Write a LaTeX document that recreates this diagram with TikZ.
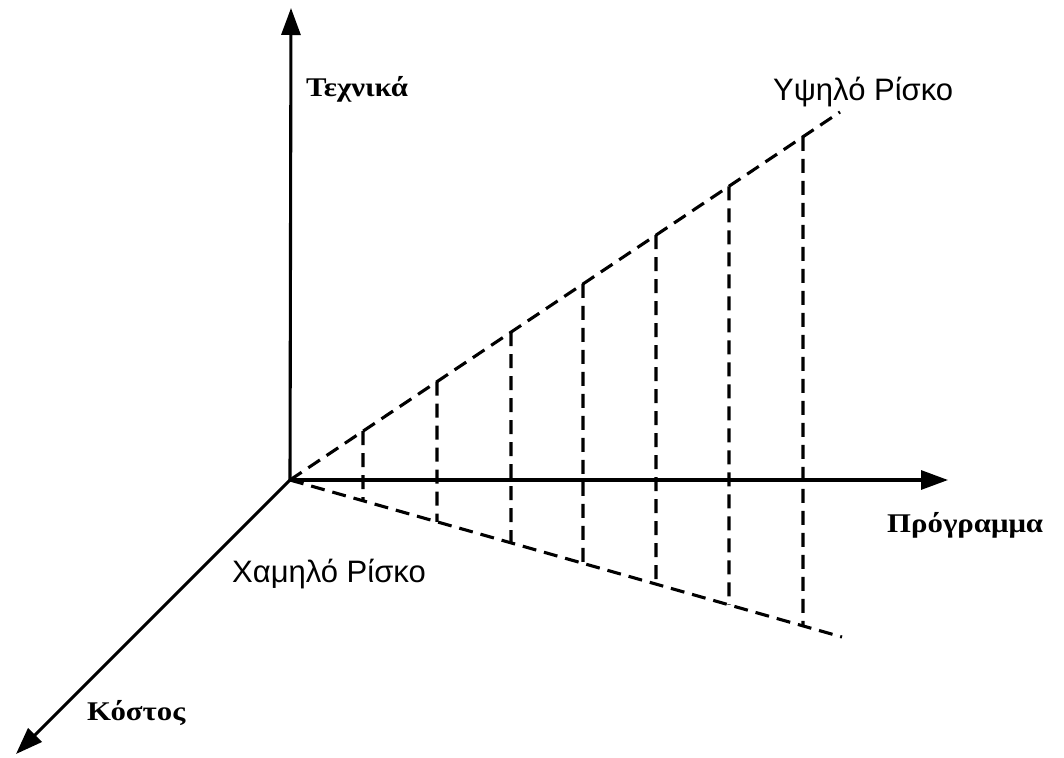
\documentclass[tikz,border=0pt]{standalone}
\usepackage{fontspec}
\setmainfont{Liberation Serif}
\newfontfamily\boldgreek[FakeStretch=1.14]{Liberation Serif}
\newfontfamily\arialf{Liberation Sans}
\usetikzlibrary{arrows.meta,calc}
\begin{document}
\begin{tikzpicture}[x=1pt,y=-1pt,
  axis/.style={line width=3.1pt,-{Triangle[length=27pt,width=19pt]}},
  guide/.style={line width=3.1pt,dash pattern=on 14pt off 8pt},
  boldlbl/.style={font=\boldgreek\fontsize{27}{32}\selectfont\bfseries,inner sep=0pt,anchor=base west},
  risklbl/.style={font=\arialf\fontsize{31}{36}\selectfont,inner sep=0pt,anchor=base west}]
\useasboundingbox (0,0) rectangle (1064,757);
\coordinate (O) at (290,480);
\coordinate (Ytip) at (291,8);
\coordinate (Xtip) at (948,480);
\coordinate (Ztip) at (16,754);
\coordinate (Uend) at (840,112);
\coordinate (Lend) at (842,637);
% dashed guides
\draw[guide] (O) -- (Uend);
\draw[guide] (O) -- (Lend);
\foreach \i/\x in {1/363,2/437,3/511,4/583,5/656,6/729,7/803}{
  \coordinate (u\i) at ($(O)!{(\x-290)/550}!(Uend)$);
  \coordinate (l\i) at ($(O)!{(\x-290)/552}!(Lend)$);
  \draw[guide] (u\i) -- (l\i);
}
% axes
\draw[axis] (O) -- (Ytip);
\draw[axis] (O) -- (Xtip);
\draw[axis] (O) -- (Ztip);
% labels
\node[boldlbl] (tech) at (306,97) {Τεχνικά};
\node[boldlbl] (prog) at (887,532) {Πρόγραμμα};
\node[boldlbl] (cost) at (87,720) {Κόστος};
\node[risklbl] (high) at (773,101) {Υψηλό Ρίσκο};
\node[risklbl] (low) at (232,582) {Χαμηλό Ρίσκο};
\end{tikzpicture}
\end{document}
